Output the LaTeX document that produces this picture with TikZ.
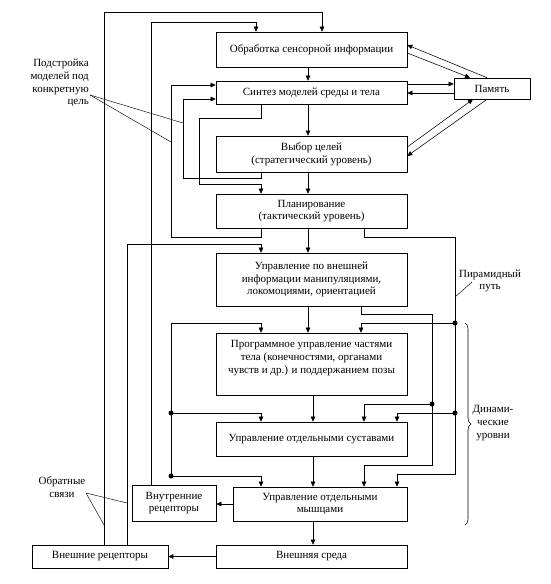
\documentclass[tikz,border=0pt]{standalone}
\usepackage{fontspec}
\setmainfont{Liberation Serif}
\usetikzlibrary{arrows.meta,decorations.pathreplacing}
\begin{document}
\begin{tikzpicture}[x=1pt,y=-1pt,
  every node/.style={font=\fontsize{11}{12.8}\selectfont},
  box/.style={draw, line width=0.6pt, inner sep=0pt, align=center},
  ln/.style={line width=0.55pt},
  arr/.style={ln,-{Triangle[length=5pt,width=4.5pt]}},
  dot/.style={circle,fill,inner sep=0pt,minimum size=5pt},
  lbl/.style={inner sep=0pt},
  lead/.style={line width=0.45pt}
]
\useasboundingbox (0,0) rectangle (551,584);

% boxes
\node[box,minimum width=191pt,minimum height=35pt] (obr) at (311.5,49.5) {Обработка сенсорной информации};
\node[box,minimum width=191pt,minimum height=23pt] (sint) at (311.5,92.5) {Синтез моделей среды и тела};
\node[box,minimum width=76pt,minimum height=21pt] (pam) at (492,88.5) {Память};
\node[box,minimum width=191pt,minimum height=36pt] (vyb) at (311.5,154) {Выбор целей\\(стратегический уровень)};
\node[box,minimum width=191pt,minimum height=34pt] (plan) at (311.5,211) {Планирование\\(тактический уровень)};
\node[box,minimum width=191pt,minimum height=53pt] (upr) at (311.5,279.5) {Управление по внешней\\информации манипуляциями,\\локомоциями, ориентацией};
\node[box,minimum width=191pt,minimum height=62pt] (prog) at (311.5,364) {};
\node[lbl,align=center] (progt) at (311.5,358) {Программное управление частями\\тела (конечностями, органами\\чувств и др.) и поддержанием позы};
\node[box,minimum width=191pt,minimum height=34pt] (sust) at (311.5,439) {Управление отдельными суставами};
\node[box,minimum width=174pt,minimum height=34pt] (mysh) at (320,504) {Управление отдельными\\мышцами};
\node[box,minimum width=84pt,minimum height=36pt] (vnutr) at (174,503) {Внутренние\\рецепторы};
\node[box,minimum width=136pt,minimum height=23pt] (vnesh) at (100,556.5) {Внешние рецепторы};
\node[box,minimum width=191pt,minimum height=23pt] (sreda) at (311.5,556.5) {Внешняя среда};

% dots
\node[dot] (d1) at (171,476) {};
\node[dot] (d2) at (171,413) {};
\node[dot] (p1) at (455,323) {};
\node[dot] (p2) at (455,413) {};
\node[dot] (q1) at (432,404) {};

% central chain
\draw[arr] (obr.south -| 308,0) -- (sint.north -| 308,0);
\draw[arr] (sint.south -| 308,0) -- (vyb.north -| 308,0);
\draw[arr] (vyb.south -| 308,0) -- (plan.north -| 308,0);
\draw[arr] (plan.south -| 308,0) -- (upr.north -| 308,0);
\draw[arr] (upr.south -| 308,0) -- (prog.north -| 308,0);
\draw[arr] (prog.south -| 313,0) -- (sust.north -| 313,0);
\draw[arr] (sust.south -| 313,0) -- (mysh.north -| 313,0);
\draw[arr] (mysh.south -| 313,0) -- (sreda.north -| 313,0);

% outer feedback loops
\draw[arr] (vnesh.north -| 104,0) -- (104,12) -- (322,12) -- (obr.north -| 322,0);
\draw[arr] (vnutr.north -| 151,0) -- (151,22) -- (256,22) -- (obr.north -| 256,0);
\draw[arr] (vnesh.north -| 127,0) -- (127,244) -- (261,244) -- (upr.north -| 261,0);

% model tuning loops
\draw[arr] (plan.south -| 261,0) -- (261,237) -- (171,237) -- (171,85) -- (sint.west |- 0,85);
\draw[arr] (vyb.south -| 261,0) -- (261,178) -- (183,178) -- (183,99) -- (sint.west |- 0,99);
\draw[arr] (sint.south -| 261,0) -- (261,118) -- (199,118) -- (199,184) -- (261,184) -- (plan.north -| 261,0);

% internal receptor distribution
\draw[arr] (d1.center) -- (171,323) -- (261,323) -- (prog.north -| 261,0);
\draw[arr] (d2.center) -| (sust.north -| 261,0);
\draw[arr] (d1.center) -| (mysh.north -| 261,0);

% pyramid path
\draw[arr] (plan.south -| 364,0) -- (364,237) -- (455,237) -- (455,474) -- (397,474) -- (mysh.north -| 397,0);
\draw[arr] (p1.center) -| (prog.north -| 361,0);
\draw[arr] (p2.center) -| (sust.north -| 397,0);

% from external-information control
\draw[arr] (upr.south -| 361,0) -- (361,314) -- (432,314) -- (432,465) -- (364,465) -- (mysh.north -| 364,0);
\draw[arr] (q1.center) -| (sust.north -| 364,0);

% bottom arrows
\draw[arr] (mysh.west) -- (vnutr.east |- mysh.west);
\draw[arr] (sreda.west) -- (vnesh.east |- sreda.west);

% memory
\draw[arr] (obr.east |- 0,53) -- (pam.north -| 470,0);
\draw[arr] (pam.north -| 487,0) -- (obr.east |- 0,45);
\draw[arr] (sint.east |- 0,84) -- (pam.west |- 0,84);
\draw[arr] (pam.west |- 0,93) -- (sint.east |- 0,93);
\draw[arr] (vyb.east |- 0,147) -- (pam.south -| 473,0);
\draw[arr] (pam.south -| 487,0) -- (vyb.east |- 0,156);

% labels
\node[lbl,align=right,anchor=east] (lpod) at (89,83) {Подстройка\\моделей под\\конкретную\\цель};
\coordinate (lpodc) at (90,95);
\draw[lead] (lpodc) -- (183,123);
\draw[lead] (lpodc) -- (171,142);

\node[lbl,align=center] (lpir) at (490,281) {Пирамидный\\путь};
\coordinate (lpirc) at (472,282);
\draw[lead] (lpirc) -- (455,297);

\node[lbl,align=center] (ldyn) at (493,423) {Динами-\\ческие\\уровни};
\draw[ln,decorate,decoration={brace,amplitude=6pt}] (465,323) -- (465,525);

\node[lbl,align=center] (lobr) at (62,487) {Обратные\\связи};
\coordinate (lobrc) at (86,493);
\draw[lead] (lobrc) -- (127,503);
\draw[lead] (lobrc) -- (104,525);
\end{tikzpicture}
\end{document}
